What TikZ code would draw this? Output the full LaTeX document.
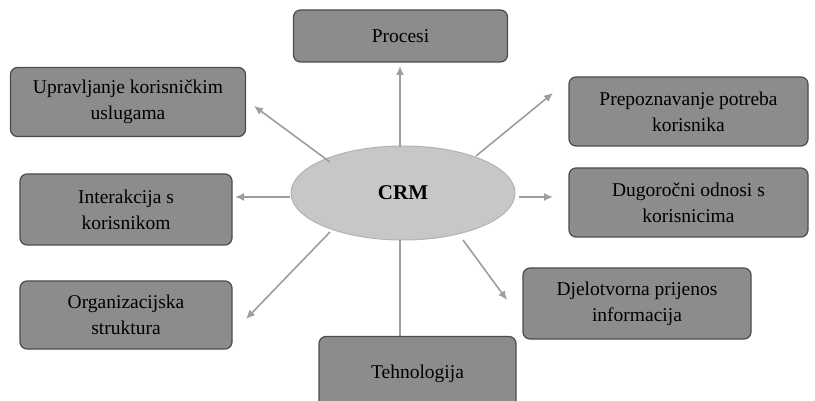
\documentclass[tikz,border=0pt]{standalone}
\usepackage{fontspec}
\setmainfont{Liberation Serif}
\usetikzlibrary{arrows.meta,shapes.geometric}
\begin{document}
\begin{tikzpicture}[x=1pt,y=-1pt,
  box/.style={draw=black!70,line width=1.2pt,fill=black!45,rounded corners=7pt,
    align=center,font=\fontsize{19.5}{26}\selectfont,inner sep=0pt},
  link/.style={draw=black!38,line width=1.6pt},
  arr/.style={link,-{Latex[length=9pt,width=8pt]}}]
\useasboundingbox (0,0) rectangle (815,401);
\fill[white] (0,0) rectangle (815,401);
\node[box,minimum width=214pt,minimum height=52pt] (proc) at (400.5,36) {Procesi};
\node[box,minimum width=235pt,minimum height=69pt] (upr) at (128,102) {Upravljanje korisničkim\\uslugama};
\node[box,minimum width=239pt,minimum height=69pt] (prep) at (688.5,111.5) {Prepoznavanje potreba\\korisnika};
\node[box,minimum width=212pt,minimum height=71pt] (int) at (126,209.5) {Interakcija s\\korisnikom};
\node[box,minimum width=239pt,minimum height=69pt] (dug) at (688.5,202.5) {Dugoročni odnosi s\\korisnicima};
\node[box,minimum width=212pt,minimum height=68pt] (org) at (126,315) {Organizacijska\\struktura};
\node[box,minimum width=228pt,minimum height=71pt] (dje) at (637,303.5) {Djelotvorna prijenos\\informacija};
\node[box,minimum width=197pt,minimum height=75pt] (teh) at (417.5,374) {Tehnologija};
\node[ellipse,draw=black!30,line width=1pt,fill=black!22,minimum width=224pt,minimum height=94pt,
  font=\fontsize{21}{24}\selectfont\bfseries] (crm) at (403,193) {CRM};
\coordinate (tProc) at (400,66);
\coordinate (tUpr) at (254,106);
\coordinate (tPrep) at (553,93);
\coordinate (tInt) at (235,197);
\coordinate (tDug) at (553,197);
\coordinate (tOrg) at (246,319);
\coordinate (tDje) at (507,300);
\coordinate (sProc) at (400,147);
\coordinate (sUpr) at (330,162);
\coordinate (sPrep) at (476,156);
\coordinate (sInt) at (290,197);
\coordinate (sDug) at (519,197);
\coordinate (sOrg) at (330,232);
\coordinate (sDje) at (463,240);
\draw[arr] (sProc) -- (tProc);
\draw[arr] (sUpr) -- (tUpr);
\draw[arr] (sPrep) -- (tPrep);
\draw[arr] (sInt) -- (tInt);
\draw[arr] (sDug) -- (tDug);
\draw[arr] (sOrg) -- (tOrg);
\draw[arr] (sDje) -- (tDje);
\draw[link] (400,240) -- (teh.north -| 400,0);
\end{tikzpicture}
\end{document}
